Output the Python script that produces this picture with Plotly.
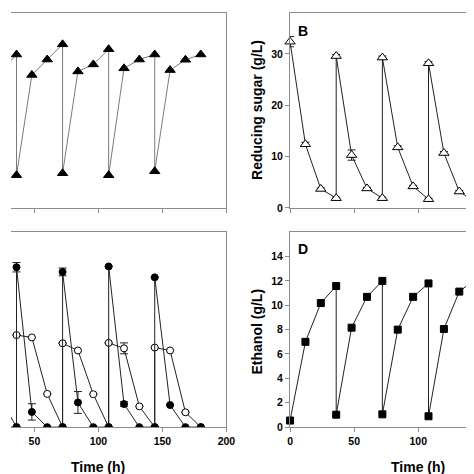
import plotly.graph_objects as go

# ---------------- data ----------------
# Panel A (left axis not visible; arbitrary 0-10 scale)
time_a = [24, 36, 36, 48, 60, 72, 72, 84, 96, 108, 108, 120, 132, 144, 144, 156, 168, 180]
val_a = [7.0, 7.87, 1.68, 6.82, 7.61, 8.39, 1.78, 7.0, 7.36, 8.14, 1.68, 7.16, 7.61, 7.87, 1.88, 7.07, 7.6, 7.87]

# Panel B reducing sugar (g/L)
time_b = [0, 12, 24, 36, 36, 48, 60, 72, 72, 84, 96, 108, 108, 120, 132, 144]
sugar_b = [32.4, 12.4, 3.7, 1.9, 29.6, 10.3, 3.8, 1.9, 29.3, 11.8, 4.2, 1.7, 28.2, 10.7, 3.2, 1.2]
sugar_err = [1.0, 0.4, 0.2, 0.2, 0.3, 1.0, 0.2, 0.2, 0.3, 0.3, 0.2, 0.2, 0.3, 0.3, 0.2, 0.2]

# Panel C (left axis not visible; 0-25 scale)
time_c = [24, 36, 36, 48, 60, 72, 72, 84, 96, 108, 108, 120, 132, 144, 144, 156, 168, 180]
filled_c = [0, 0, 20.5, 1.95, 0, 0, 19.9, 3.16, 0, 0, 20.6, 2.96, 0, 0, 19.2, 2.83, 0, 0]
filled_err = [0, 0, 0.6, 1.05, 0, 0, 0.5, 1.4, 0, 0, 0, 0.3, 0, 0, 0, 0, 0, 0]
open_c = [3.5, 0, 11.8, 11.5, 4.26, 0, 10.75, 9.83, 4.22, 0, 10.8, 10.1, 2.66, 0, 10.2, 9.83, 1.9, 0]
open_err = [0, 0, 0, 0, 0, 0, 0, 0, 0, 0, 0, 0.7, 0, 0, 0, 0, 0, 0]

# Panel D ethanol (g/L)
time_d = [0, 12, 24, 36, 36, 48, 60, 72, 72, 84, 96, 108, 108, 120, 132, 144]
ethanol_d = [0.54, 7.0, 10.18, 11.58, 1.02, 8.16, 10.69, 12.0, 1.05, 8.0, 10.69, 11.79, 0.89, 8.05, 11.12, 12.1]

x_ticks_left = [50, 100, 150, 200]
x_ticks_right = [0, 50, 100]
y_ticks_b = [0, 10, 20, 30]
y_ticks_d = [0, 2, 4, 6, 8, 10, 12, 14]

# ---------------- figure ----------------
FONT = "Liberation Sans, Arial, sans-serif"
AX = "#8c8c8c"
W = H = 474

fig = go.Figure()

fig.add_trace(go.Scatter(
    x=time_a, y=val_a, xaxis="x", yaxis="y", mode="lines+markers",
    line=dict(color="#7a7a7a", width=1),
    marker=dict(symbol="triangle-up", size=9, color="black", line=dict(color="black", width=1)),
))

fig.add_trace(go.Scatter(
    x=time_b, y=sugar_b, xaxis="x2", yaxis="y2", mode="lines+markers", cliponaxis=False,
    line=dict(color="#222222", width=1),
    error_y=dict(type="data", array=sugar_err, color="#222222", thickness=1, width=4),
    marker=dict(symbol="triangle-up", size=9, color="white", line=dict(color="black", width=1)),
))

fig.add_trace(go.Scatter(
    x=time_c, y=open_c, xaxis="x3", yaxis="y3", mode="lines+markers",
    line=dict(color="#222222", width=1),
    error_y=dict(type="data", array=open_err, color="#222222", thickness=1, width=4),
    marker=dict(symbol="circle", size=7, color="white", line=dict(color="black", width=1)),
))
fig.add_trace(go.Scatter(
    x=time_c, y=filled_c, xaxis="x3", yaxis="y3", mode="lines+markers",
    line=dict(color="#222222", width=1),
    error_y=dict(type="data", array=filled_err, color="#222222", thickness=1, width=4),
    marker=dict(symbol="circle", size=7, color="black", line=dict(color="black", width=1)),
))

fig.add_trace(go.Scatter(
    x=time_d, y=ethanol_d, xaxis="x4", yaxis="y4", mode="lines+markers", cliponaxis=False,
    line=dict(color="#222222", width=1),
    marker=dict(symbol="square", size=7, color="black", line=dict(color="black", width=1)),
))

def px_x(p):
    return p / W

def px_y(p):
    return 1 - p / H

top_dom = [px_y(202.5), px_y(5)]
bot_dom = [px_y(424.5), px_y(227)]
left_dom = [0, px_x(221)]
right_dom = [px_x(286.3), 1]

tickfont = dict(family=FONT, size=10.5, color="black", weight="bold")

common_x = dict(showline=True, mirror=True, linecolor=AX, linewidth=1, ticks="outside",
                ticklen=4, tickcolor=AX, showgrid=False, zeroline=False, tickfont=tickfont)
common_y = dict(showline=True, linecolor=AX, linewidth=1, showgrid=False, zeroline=False,
                tickfont=tickfont)

fig.update_layout(
    width=W, height=H, margin=dict(l=0, r=0, t=0, b=0),
    paper_bgcolor="white", plot_bgcolor="white", showlegend=False,
    font=dict(family=FONT, color="black"),
    xaxis=dict(domain=left_dom, anchor="y", range=[31.7, 200], tickvals=x_ticks_left,
               showticklabels=False, **common_x),
    yaxis=dict(domain=top_dom, anchor="x", range=[0, 10], side="right", ticks="",
               showticklabels=False, **common_y),
    xaxis2=dict(domain=right_dom, anchor="y2", range=[0, 142.7], tickvals=x_ticks_right,
                showticklabels=False, **common_x),
    yaxis2=dict(domain=top_dom, anchor="x2", range=[0, 38], tickvals=y_ticks_b,
                ticks="outside", ticklen=4, tickcolor=AX, **common_y),
    xaxis3=dict(domain=left_dom, anchor="y3", range=[31.7, 200], tickvals=x_ticks_left,
                showticklabels=True, **common_x),
    yaxis3=dict(domain=bot_dom, anchor="x3", range=[0, 25], side="right", ticks="",
                showticklabels=False, **common_y),
    xaxis4=dict(domain=right_dom, anchor="y4", range=[0, 142.7], tickvals=x_ticks_right,
                showticklabels=True, **common_x),
    yaxis4=dict(domain=bot_dom, anchor="x4", range=[0, 16], tickvals=y_ticks_d,
                ticks="outside", ticklen=4, tickcolor=AX, **common_y),
)

title_font = dict(family=FONT, size=14, color="black", weight="bold")
ann = [
    dict(text="Time (h)", x=px_x(89.6), y=px_y(464.7), textangle=0),
    dict(text="Time (h)", x=px_x(418), y=px_y(464.7), textangle=0),
    dict(text="Reducing sugar (g/L)", x=px_x(253), y=px_y(103.7), textangle=-90),
    dict(text="Ethanol (g/L)", x=px_x(252), y=px_y(328), textangle=-90),
    dict(text="B", x=px_x(300), y=px_y(23), textangle=0),
    dict(text="D", x=px_x(300), y=px_y(244), textangle=0),
]
for a in ann:
    fig.add_annotation(xref="paper", yref="paper", showarrow=False, xanchor="center",
                       yanchor="middle", font=title_font, **a)

fig.write_html("out.html")
